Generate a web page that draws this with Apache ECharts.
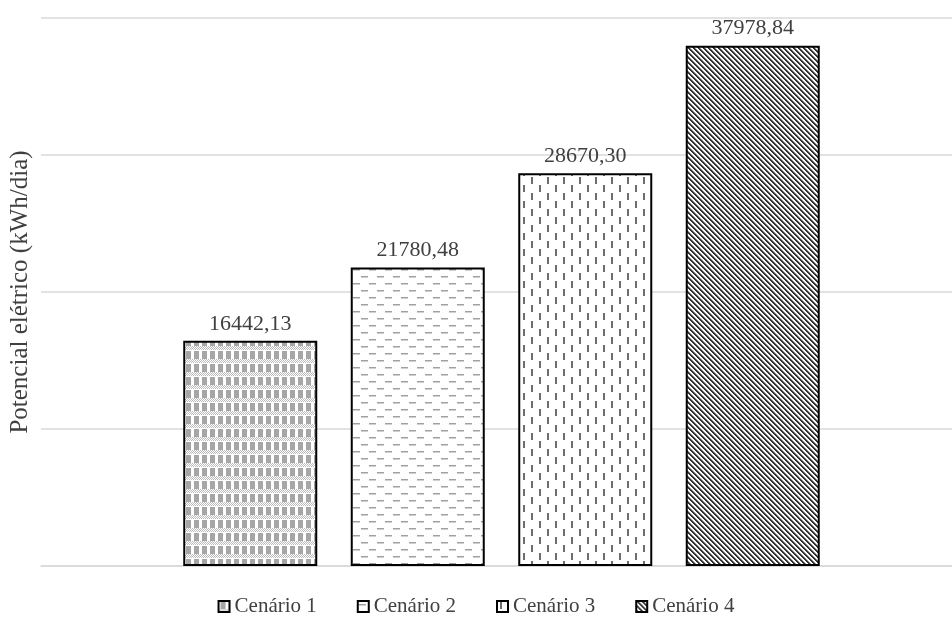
<!DOCTYPE html>
<html><head><meta charset="utf-8">
<script src="https://cdn.jsdelivr.net/npm/echarts@6/dist/echarts.min.js"></script>
<style>html,body{margin:0;padding:0;background:#fff}#c{width:952px;height:625px}</style>
</head><body><div id="c"></div>
<script>
const seriesNames = ['Cenário 1','Cenário 2','Cenário 3','Cenário 4'];
const seriesValues = [16442.13, 21780.48, 28670.30, 37978.84];
const categories = [''];
const yName = 'Potencial elétrico (kWh/dia)';

function tile(w,h,draw){const c=document.createElement('canvas');c.width=w;c.height=h;const g=c.getContext('2d');g.fillStyle='#fff';g.fillRect(0,0,w,h);draw(g,w,h);return c;}
const p1 = tile(8,13,(g)=>{g.fillStyle='#a6a6a6';g.fillRect(2,0,5,8);g.fillStyle='#bdbdbd';for(let x=0;x<8;x++){for(let y=8;y<12;y++){if((x+y)%2===0)g.fillRect(x,y,1,1);}}});
const p2 = tile(16,14,(g)=>{g.fillStyle='#a0a0a0';g.fillRect(1,3,7,1);g.fillRect(9,10,7,1);g.fillStyle='#d0d0d0';g.fillRect(1,4,7,1);g.fillRect(9,11,7,1);});
const p3 = tile(16,16,(g)=>{g.fillStyle='#6e6e6e';g.fillRect(3,1,2,7);g.fillRect(11,9,2,7);});
const p4 = tile(5,5,(g,w,h)=>{for(let x=0;x<w;x++)for(let y=0;y<h;y++){const d=((x-y)%5+5)%5;if(d<2){g.fillStyle='#333';g.fillRect(x,y,1,1);}else if(d===2){g.fillStyle='#999';g.fillRect(x,y,1,1);}}});
const pats=[p1,p2,p3,p4];

const fmt = v => v.toFixed(2).replace('.', ',');
const font = 'Liberation Serif';

const chart = echarts.init(document.getElementById('c'));
chart.setOption({
  animation:false,
  grid:{left:41,right:-10,top:18,bottom:59,outerBoundsMode:'none',containLabel:false},
  legend:{top:591,left:'center',icon:'rect',itemWidth:11,itemHeight:11,itemGap:40,
    textStyle:{fontFamily:font,fontSize:21,color:'#404040'},
    data:seriesNames},
  xAxis:{type:'category',data:categories,axisTick:{show:false},axisLabel:{show:false},
    axisLine:{lineStyle:{color:'#d9d9d9',width:1.5}}},
  yAxis:{type:'value',min:0,max:40000,interval:10000,axisLabel:{show:false},
    axisLine:{show:false},axisTick:{show:false},
    splitLine:{lineStyle:{color:'#d9d9d9',width:1.5}},
    name:yName,nameLocation:'middle',nameGap:8,
    nameTextStyle:{fontFamily:font,fontSize:25,color:'#404040'}},
  series: seriesNames.map((n,i)=>({
    name:n,type:'bar',data:[seriesValues[i]],barWidth:134,barGap:'25%',
    itemStyle:{color:{image:pats[i],repeat:'repeat'},borderColor:'#000',borderWidth:2},
    label:{show:true,position:'top',distance:6,formatter:p=>fmt(p.value),
      fontFamily:font,fontSize:22,color:'#404040'}
  }))
});
</script></body></html>
